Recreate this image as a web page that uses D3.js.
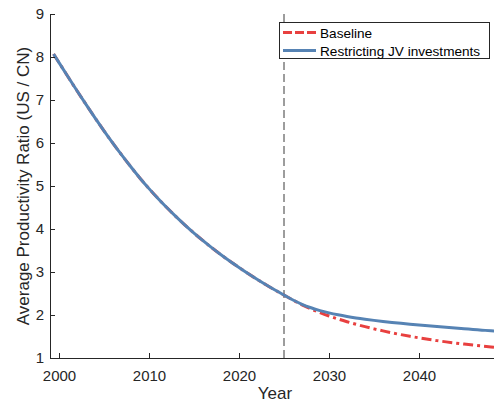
<!DOCTYPE html>
<html>
<head>
<meta charset="utf-8">
<script src="https://cdn.jsdelivr.net/npm/d3@7"></script>
<style>
  html, body { margin: 0; padding: 0; background: #fff; }
  svg { display: block; font-family: "Liberation Sans", Arial, Helvetica, sans-serif; }
</style>
</head>
<body>
<svg id="chart" width="494" height="406"></svg>
<script>
// Shared history up to the policy year
const histYears = [1999.4, 2000, 2001, 2002, 2003, 2004, 2005, 2006, 2007, 2008, 2009,
  2010, 2011, 2012, 2013, 2014, 2015, 2016, 2017, 2018, 2019, 2020,
  2021, 2022, 2023, 2024, 2025];
const histValues = [8.07, 7.87, 7.54, 7.215, 6.897, 6.586, 6.284, 5.992, 5.711, 5.441, 5.182,
  4.939, 4.710, 4.493, 4.287, 4.091, 3.905, 3.728, 3.560, 3.400, 3.248, 3.104,
  2.964, 2.830, 2.702, 2.580, 2.463];

// Projections after 2025
const projYears = [2026, 2027, 2028, 2029, 2030, 2031, 2032, 2033, 2034, 2035, 2036, 2037,
  2038, 2039, 2040, 2041, 2042, 2043, 2044, 2045, 2046, 2047, 2048, 2049];
const baselineValues = [2.346, 2.236, 2.139, 2.054, 1.977, 1.907, 1.843, 1.784, 1.729, 1.678,
  1.630, 1.585, 1.543, 1.504, 1.468, 1.435, 1.404, 1.375, 1.348, 1.323, 1.300, 1.278, 1.257, 1.237];
const restrictValues = [2.348, 2.248, 2.168, 2.103, 2.050, 2.005, 1.966, 1.932, 1.902, 1.875,
  1.850, 1.827, 1.806, 1.786, 1.767, 1.749, 1.731, 1.713, 1.696, 1.680, 1.664, 1.648, 1.632, 1.617];

const xTicks = [2000, 2010, 2020, 2030, 2040];
const yTicks = [1, 2, 3, 4, 5, 6, 7, 8, 9];
const policyYear = 2025;
const seriesNames = ["Baseline", "Restricting JV investments"];

const colBase = "#e8403f";
const colRestrict = "#5683b4";
const axisCol = "#262626";

const svg = d3.select("#chart");
const x = d3.scaleLinear().domain([1999, 2049]).range([50, 500]);
const y = d3.scaleLinear().domain([1, 9]).range([358, 14]);

const toPts = (ys, vs) => ys.map((yr, i) => [yr, vs[i]]);
const baseline = toPts(histYears, histValues).concat(toPts(projYears, baselineValues));
const restrict = toPts(histYears, histValues).concat(toPts(projYears, restrictValues));

const line = d3.line().x(d => x(d[0])).y(d => y(d[1])).curve(d3.curveMonotoneX);

// Policy year marker
svg.append("line")
  .attr("x1", x(policyYear)).attr("x2", x(policyYear))
  .attr("y1", y(9)).attr("y2", y(1))
  .attr("stroke", "#3a3a3a").attr("stroke-width", 1)
  .attr("stroke-dasharray", "8,4");

// Series
svg.append("path").datum(baseline)
  .attr("d", line).attr("fill", "none")
  .attr("stroke", colBase).attr("stroke-width", 3)
  .attr("stroke-dasharray", "10,4,3,4");
svg.append("path").datum(restrict)
  .attr("d", line).attr("fill", "none")
  .attr("stroke", colRestrict).attr("stroke-width", 3);

// Axes (ticks pointing inward)
const xAxis = d3.axisBottom(x).tickValues(xTicks).tickFormat(d3.format("d"))
  .tickSizeInner(-5).tickSizeOuter(0).tickPadding(12);
const gx = svg.append("g").attr("transform", `translate(0,${y(1)})`).call(xAxis);
const yAxis = d3.axisLeft(y).tickValues(yTicks).tickFormat(d3.format("d"))
  .tickSizeInner(-5).tickSizeOuter(0).tickPadding(6);
const gy = svg.append("g").attr("transform", `translate(${x(1999)},0)`).call(yAxis);

[gx, gy].forEach(g => {
  g.select(".domain").attr("stroke", axisCol).attr("stroke-width", 1);
  g.selectAll(".tick line").attr("stroke", axisCol);
  g.selectAll(".tick text").attr("fill", axisCol)
    .style("font-family", "'Liberation Sans', Arial, sans-serif")
    .style("font-size", "15px");
});
gy.select(".domain").attr("d", `M0.5,${y(1)}V${y(9)}`);
gx.select(".domain").attr("d", `M${x(1999)},0.5H500`);

// Axis titles
svg.append("text")
  .attr("x", (x(1999) + 500) / 2).attr("y", 399)
  .attr("text-anchor", "middle").attr("fill", axisCol)
  .style("font-size", "17px").text("Year");
svg.append("text")
  .attr("transform", `translate(29,${(y(1) + y(9)) / 2}) rotate(-90)`)
  .attr("text-anchor", "middle").attr("fill", axisCol)
  .style("font-size", "17px").text("Average Productivity Ratio (US / CN)");

// Legend
const lg = svg.append("g");
lg.append("rect")
  .attr("x", 279.5).attr("y", 22.5).attr("width", 210).attr("height", 36)
  .attr("fill", "#fff").attr("stroke", axisCol).attr("stroke-width", 1);
const items = [
  { name: seriesNames[0], color: colBase, dash: "9,3" },
  { name: seriesNames[1], color: colRestrict, dash: null }
];
items.forEach((it, i) => {
  const cy = 32.5 + i * 18;
  lg.append("line")
    .attr("x1", 283).attr("x2", 316).attr("y1", cy).attr("y2", cy)
    .attr("stroke", it.color).attr("stroke-width", 3)
    .attr("stroke-dasharray", it.dash);
  lg.append("text")
    .attr("x", 320).attr("y", cy + 5)
    .attr("fill", "#000").style("font-size", "13.6px")
    .text(it.name);
});
</script>
</body>
</html>
